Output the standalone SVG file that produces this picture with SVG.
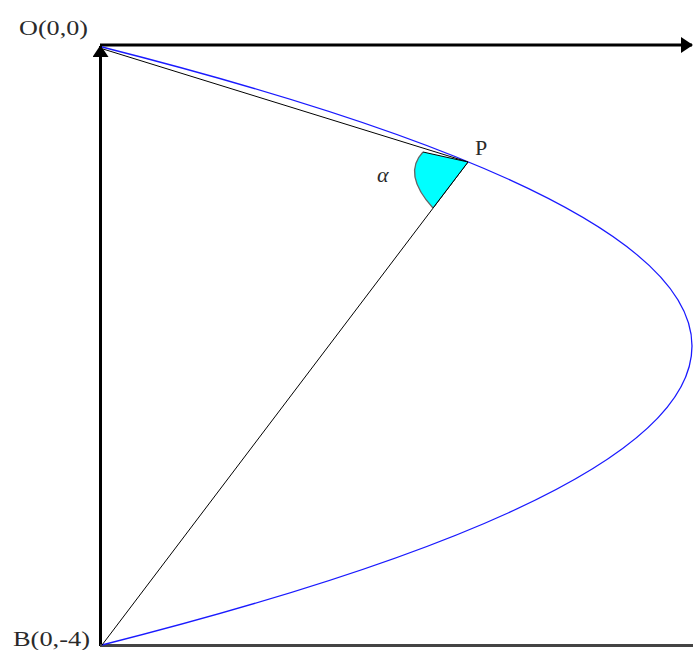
<svg xmlns="http://www.w3.org/2000/svg" width="693" height="650" viewBox="0 0 693 650">
<style>
.lbl{font-family:"Liberation Serif","Times New Roman",serif;font-size:22px;fill:#2a2a2a}
.axis{stroke:#000;stroke-width:3;fill:none}
.thin{stroke:#000;stroke-width:1;fill:none}
</style>
<defs>
<marker id="ah" viewBox="0 0 12 16" refX="11" refY="8" markerWidth="12" markerHeight="16" markerUnits="userSpaceOnUse" orient="auto">
<path d="M0,0 L12,8 L0,16 Z" fill="#000"/>
</marker>
</defs>
<rect width="693" height="650" fill="#fff"/>
<g id="connectors">
<line class="axis" x1="100" y1="45" x2="692" y2="45" marker-end="url(#ah)"/>
<line class="axis" x1="100.5" y1="646" x2="100.5" y2="46" marker-end="url(#ah)"/>
<line x1="100" y1="645.5" x2="693" y2="645.5" stroke="#444" stroke-width="3"/>
<path d="M102,47 Q1282,346 102,645" fill="none" stroke="#1a1aff" stroke-width="1.3"/>
<line class="thin" x1="103" y1="49" x2="468" y2="162"/>
<line class="thin" x1="102" y1="645" x2="468" y2="162"/>
</g>
<g id="angle">
<path d="M468,162 L423,152 Q402,174 433,208 Z" fill="#00ffff" stroke="none"/>
<path d="M423,152 Q402,174 433,208" fill="none" stroke="#666" stroke-width="1.3"/>
<line class="thin" x1="423" y1="152" x2="468" y2="162"/>
<line class="thin" x1="433" y1="208" x2="468" y2="162"/>
</g>
<g id="O"><text class="lbl" x="19" y="35" textLength="69" lengthAdjust="spacingAndGlyphs">O(0,0)</text></g>
<g id="P"><text class="lbl" x="475" y="155">P</text></g>
<g id="alpha"><text class="lbl" x="377" y="182" font-style="italic" font-size="24">α</text></g>
<g id="B"><text class="lbl" x="13" y="646" textLength="77" lengthAdjust="spacingAndGlyphs">B(0,-4)</text></g>
</svg>
